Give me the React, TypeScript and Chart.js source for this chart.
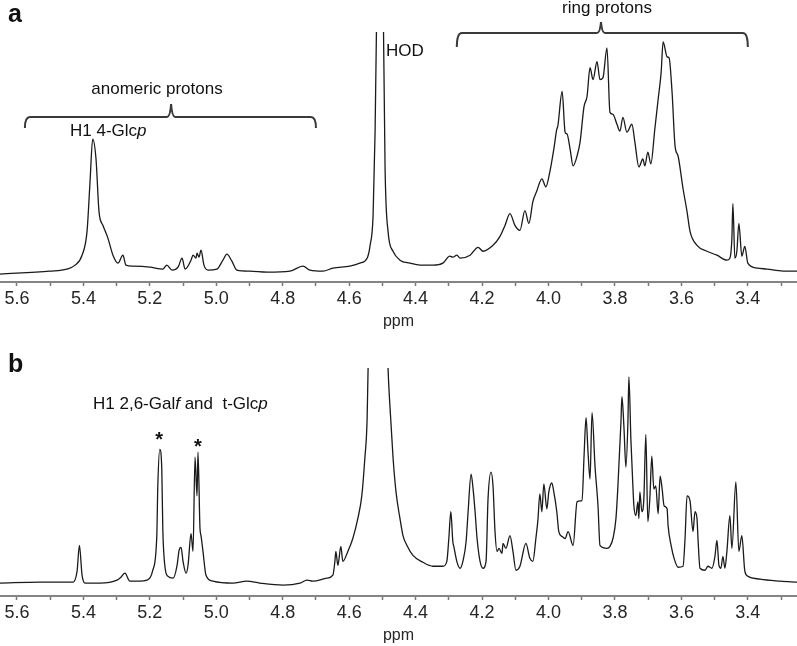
import React, { useEffect, useRef } from 'react';
import { Chart, registerables } from 'chart.js';

Chart.register(...registerables);

const FONT = '"Liberation Sans", Arial, Helvetica, sans-serif';

// Axis ticks (ppm), reversed NMR axis
const MAJOR_TICKS = [5.6, 5.4, 5.2, 5.0, 4.8, 4.6, 4.4, 4.2, 4.0, 3.8, 3.6, 3.4];
const MINOR_TICKS = [5.5, 5.3, 5.1, 4.9, 4.7, 4.5, 4.3, 4.1, 3.9, 3.7, 3.5, 3.3];
const X_MIN = 3.252;
const X_MAX = 5.651;
const X_TITLE = 'ppm';

// Panel a spectrum
const A_PPM = [
  5.651, 5.501, 5.450, 5.425, 5.404, 5.389, 5.380, 5.372, 5.362, 5.353,
  5.341, 5.326, 5.311, 5.296, 5.281, 5.272, 5.251, 5.200, 5.161, 5.149,
  5.133, 5.115, 5.103, 5.094, 5.076, 5.070, 5.061, 5.058, 5.052, 5.046,
  5.037, 5.025, 4.998, 4.980, 4.968, 4.953, 4.938, 4.899, 4.847, 4.778,
  4.739, 4.718, 4.679, 4.649, 4.598, 4.568, 4.546, 4.537, 4.528, 4.522,
  4.516, 4.507, 4.498, 4.492, 4.483, 4.468, 4.447, 4.417, 4.387, 4.348,
  4.318, 4.297, 4.288, 4.276, 4.266, 4.236, 4.212, 4.197, 4.167, 4.146,
  4.131, 4.116, 4.101, 4.086, 4.071, 4.059, 4.047, 4.035, 4.020, 4.008,
  3.996, 3.984, 3.975, 3.972, 3.959, 3.950, 3.944, 3.935, 3.926, 3.914,
  3.905, 3.893, 3.884, 3.875, 3.866, 3.854, 3.845, 3.836, 3.824, 3.815,
  3.806, 3.794, 3.785, 3.776, 3.764, 3.749, 3.740, 3.728, 3.716, 3.710,
  3.701, 3.692, 3.680, 3.670, 3.661, 3.655, 3.643, 3.637, 3.628, 3.619,
  3.610, 3.595, 3.583, 3.574, 3.553, 3.523, 3.493, 3.463, 3.454, 3.448,
  3.445, 3.439, 3.433, 3.427, 3.418, 3.409, 3.400, 3.372, 3.342, 3.294,
  3.252,
];
const A_INTENSITY = [
  8, 11, 13, 17, 27, 51, 101, 144, 124, 71,
  57, 44, 27, 19, 27, 17, 16, 15, 13, 17,
  12, 15, 24, 13, 22, 27, 24, 29, 25, 32,
  17, 12, 13, 22, 28, 21, 12, 11, 10, 11,
  16, 12, 11, 14, 16, 19, 24, 37, 67, 151,
  300, 600, 300, 117, 51, 31, 22, 19, 17, 17,
  19, 26, 25, 27, 24, 27, 35, 31, 37, 46,
  57, 69, 57, 52, 72, 59, 81, 92, 104, 96,
  111, 134, 154, 157, 192, 151, 149, 134, 117, 127,
  141, 177, 187, 216, 204, 222, 204, 206, 236, 171,
  169, 159, 152, 166, 151, 159, 141, 116, 124, 117,
  131, 119, 154, 184, 211, 242, 227, 226, 191, 137,
  127, 94, 71, 51, 37, 31, 27, 22, 24, 44,
  79, 24, 31, 59, 26, 36, 19, 14, 13, 11,
  11,
];
const A_Y_MAX = 252;

// Panel b spectrum
const B_PPM = [
  5.651, 5.531, 5.431, 5.419, 5.412, 5.404, 5.395, 5.350, 5.299, 5.287,
  5.275, 5.260, 5.230, 5.209, 5.191, 5.179, 5.176, 5.170, 5.164, 5.161,
  5.155, 5.146, 5.130, 5.118, 5.112, 5.106, 5.100, 5.091, 5.085, 5.076,
  5.070, 5.064, 5.058, 5.055, 5.049, 5.046, 5.040, 5.031, 5.010, 4.950,
  4.908, 4.869, 4.799, 4.748, 4.727, 4.709, 4.667, 4.649, 4.643, 4.640,
  4.634, 4.625, 4.619, 4.604, 4.589, 4.574, 4.562, 4.553, 4.546, 4.543,
  4.531, 4.522, 4.513, 4.504, 4.492, 4.483, 4.477, 4.468, 4.459, 4.447,
  4.438, 4.426, 4.408, 4.378, 4.348, 4.318, 4.306, 4.300, 4.294, 4.288,
  4.285, 4.276, 4.266, 4.257, 4.248, 4.242, 4.233, 4.227, 4.221, 4.215,
  4.206, 4.197, 4.188, 4.182, 4.173, 4.167, 4.161, 4.155, 4.149, 4.140,
  4.137, 4.128, 4.116, 4.107, 4.098, 4.086, 4.068, 4.056, 4.047, 4.038,
  4.032, 4.026, 4.020, 4.014, 4.005, 3.999, 3.990, 3.984, 3.975, 3.969,
  3.959, 3.950, 3.941, 3.926, 3.914, 3.905, 3.899, 3.893, 3.887, 3.881,
  3.875, 3.869, 3.860, 3.851, 3.845, 3.824, 3.815, 3.806, 3.797, 3.791,
  3.782, 3.779, 3.773, 3.767, 3.761, 3.758, 3.752, 3.746, 3.743, 3.737,
  3.731, 3.728, 3.725, 3.719, 3.713, 3.707, 3.701, 3.695, 3.689, 3.683,
  3.677, 3.670, 3.664, 3.658, 3.652, 3.643, 3.640, 3.631, 3.622, 3.610,
  3.595, 3.589, 3.583, 3.574, 3.565, 3.559, 3.553, 3.550, 3.544, 3.529,
  3.520, 3.508, 3.499, 3.493, 3.487, 3.481, 3.475, 3.469, 3.463, 3.454,
  3.448, 3.436, 3.427, 3.418, 3.409, 3.400, 3.363, 3.303, 3.252,
];
const B_INTENSITY = [
  13, 14, 14, 25, 51, 21, 13, 13, 16, 19,
  23, 15, 15, 16, 26, 61, 111, 148, 128, 68,
  31, 20, 18, 31, 46, 49, 35, 23, 31, 63,
  45, 140, 101, 145, 68, 61, 45, 21, 15, 13,
  15, 13, 11, 13, 16, 15, 18, 21, 35, 45,
  31, 50, 35, 45, 58, 78, 101, 138, 178, 230,
  350, 600, 900, 600, 350, 230, 190, 140, 105, 78,
  61, 51, 41, 34, 30, 30, 35, 58, 85, 55,
  50, 35, 28, 36, 55, 85, 123, 108, 85, 58,
  35, 28, 35, 98, 125, 111, 65, 45, 48, 43,
  53, 48, 61, 45, 26, 30, 53, 38, 35, 58,
  76, 103, 85, 113, 88, 105, 114, 105, 85, 65,
  60, 58, 65, 51, 95, 96, 96, 141, 180, 145,
  118, 185, 131, 91, 51, 48, 50, 58, 78, 111,
  175, 201, 171, 130, 175, 221, 158, 111, 91, 81,
  95, 78, 105, 85, 98, 163, 75, 98, 141, 108,
  111, 83, 121, 108, 91, 88, 71, 51, 38, 29,
  30, 58, 101, 96, 65, 85, 78, 58, 28, 26,
  30, 28, 40, 56, 31, 28, 40, 28, 45, 81,
  48, 115, 45, 61, 25, 20, 17, 15, 14,
];
const B_Y_MAX = 230;

// Annotation text
const LABEL_A = 'a';
const LABEL_B = 'b';
const TXT_ANOMERIC = 'anomeric protons';
const TXT_H1_GLC = ['H1 4-Glc', 'p'];
const TXT_HOD = 'HOD';
const TXT_RING = 'ring protons';
const TXT_B_PARTS: [string, boolean][] = [
  ['H1 2,6-Gal', false],
  ['f', true],
  [' and  t-Glc', false],
  ['p', true],
];

function drawBracket(ctx: CanvasRenderingContext2D, x1: number, x2: number, xc: number, yLine: number, yEnd: number, yTip: number) {
  ctx.beginPath();
  ctx.moveTo(x1, yEnd);
  ctx.quadraticCurveTo(x1, yLine, x1 + 5, yLine);
  ctx.lineTo(xc - 4, yLine);
  ctx.quadraticCurveTo(xc - 1, yLine, xc, yTip);
  ctx.quadraticCurveTo(xc + 1, yLine, xc + 4, yLine);
  ctx.lineTo(x2 - 5, yLine);
  ctx.quadraticCurveTo(x2, yLine, x2, yEnd);
  ctx.stroke();
}

function drawRich(ctx: CanvasRenderingContext2D, parts: [string, boolean][], x: number, y: number, size: number) {
  let cx = x;
  for (const [t, it] of parts) {
    ctx.font = `${it ? 'italic ' : ''}${size}px ${FONT}`;
    ctx.fillText(t, cx, y);
    cx += ctx.measureText(t).width;
  }
}

const annotateA = {
  id: 'annotateA',
  afterDraw(chart: any) {
    const ctx: CanvasRenderingContext2D = chart.ctx;
    const xs = chart.scales.x;
    ctx.save();
    ctx.fillStyle = '#111';
    ctx.textBaseline = 'alphabetic';
    ctx.textAlign = 'left';
    ctx.font = `bold 25px ${FONT}`;
    ctx.fillText(LABEL_A, 8, 22);

    ctx.font = `17px ${FONT}`;
    ctx.textAlign = 'center';
    ctx.fillText(TXT_ANOMERIC, 157, 94);
    ctx.fillText(TXT_RING, 607, 13);
    ctx.textAlign = 'left';
    drawRich(ctx, [[TXT_H1_GLC[0], false], [TXT_H1_GLC[1], true]], 70, 136, 17);
    ctx.font = `17px ${FONT}`;
    ctx.fillText(TXT_HOD, 386, 56);

    ctx.strokeStyle = '#3a3a3a';
    ctx.lineWidth = 2;
    drawBracket(ctx, xs.getPixelForValue(5.576), xs.getPixelForValue(4.700), xs.getPixelForValue(5.136), 117, 128, 104);
    drawBracket(ctx, xs.getPixelForValue(4.276), xs.getPixelForValue(3.400), xs.getPixelForValue(3.842), 33, 47, 22);
    ctx.restore();
  },
};

const annotateB = {
  id: 'annotateB',
  afterDraw(chart: any) {
    const ctx: CanvasRenderingContext2D = chart.ctx;
    const xs = chart.scales.x;
    const off = 318;
    ctx.save();
    ctx.fillStyle = '#111';
    ctx.textBaseline = 'alphabetic';
    ctx.textAlign = 'left';
    ctx.font = `bold 25px ${FONT}`;
    ctx.fillText(LABEL_B, 8, 372 - off);
    drawRich(ctx, TXT_B_PARTS, 93, 409 - off, 17);
    ctx.font = `bold 20px ${FONT}`;
    ctx.textAlign = 'center';
    ctx.fillText('*', xs.getPixelForValue(5.172), 446 - off);
    ctx.fillText('*', xs.getPixelForValue(5.055), 453 - off);
    ctx.restore();
  },
};

function xScale() {
  return {
    type: 'linear' as const,
    reverse: true,
    min: X_MIN,
    max: X_MAX,
    afterBuildTicks: (s: any) => {
      s.ticks = [...MAJOR_TICKS, ...MINOR_TICKS].sort((a, b) => a - b).map((v) => ({ value: v }));
    },
    ticks: {
      autoSkip: false,
      maxRotation: 0,
      minRotation: 0,
      padding: 2,
      color: '#262626',
      font: { family: FONT, size: 18 },
      callback: (value: any) => {
        const v = Number(value);
        return MAJOR_TICKS.some((m) => Math.abs(m - v) < 1e-6) ? v.toFixed(1) : '';
      },
    },
    grid: {
      drawOnChartArea: false,
      drawTicks: true,
      tickLength: 4,
      tickColor: '#777',
      tickWidth: 1.5,
      color: '#777',
    },
    border: { display: true, color: '#858585', width: 2 },
    title: {
      display: true,
      text: X_TITLE,
      color: '#262626',
      font: { family: FONT, size: 16 },
      padding: { top: 0, bottom: 0 },
    },
  };
}

function makeChart(canvas: HTMLCanvasElement, ppm: number[], inten: number[], yMax: number, padTop: number, padBottom: number, plugin: any) {
  return new Chart(canvas, {
    type: 'line',
    data: {
      datasets: [
        {
          data: ppm.map((x, i) => ({ x, y: inten[i] })),
          borderColor: '#1a1a1a',
          borderWidth: 1.3,
          pointRadius: 0,
          cubicInterpolationMode: 'monotone',
          fill: false,
        },
      ],
    },
    options: {
      responsive: false,
      animation: false,
      devicePixelRatio: 1,
      layout: { padding: { top: padTop, bottom: padBottom, left: 0, right: 0 } },
      plugins: { legend: { display: false }, tooltip: { enabled: false } },
      scales: {
        x: xScale() as any,
        y: { display: false, min: 0, max: yMax },
      },
    },
    plugins: [plugin],
  });
}

export default function App() {
  const refA = useRef<HTMLCanvasElement>(null);
  const refB = useRef<HTMLCanvasElement>(null);

  useEffect(() => {
    const a = makeChart(refA.current!, A_PPM, A_INTENSITY, A_Y_MAX, 32, 9.2, annotateA);
    const b = makeChart(refB.current!, B_PPM, B_INTENSITY, B_Y_MAX, 50, 1.2, annotateB);
    return () => {
      a.destroy();
      b.destroy();
    };
  }, []);

  return (
    <div style={{ position: 'absolute', left: 0, top: 0, width: 797, height: 646, background: '#fff', overflow: 'hidden' }}>
      <canvas ref={refA} width={797} height={340} style={{ position: 'absolute', left: 0, top: 0, width: 797, height: 340 }} />
      <canvas ref={refB} width={797} height={328} style={{ position: 'absolute', left: 0, top: 318, width: 797, height: 328 }} />
    </div>
  );
}
